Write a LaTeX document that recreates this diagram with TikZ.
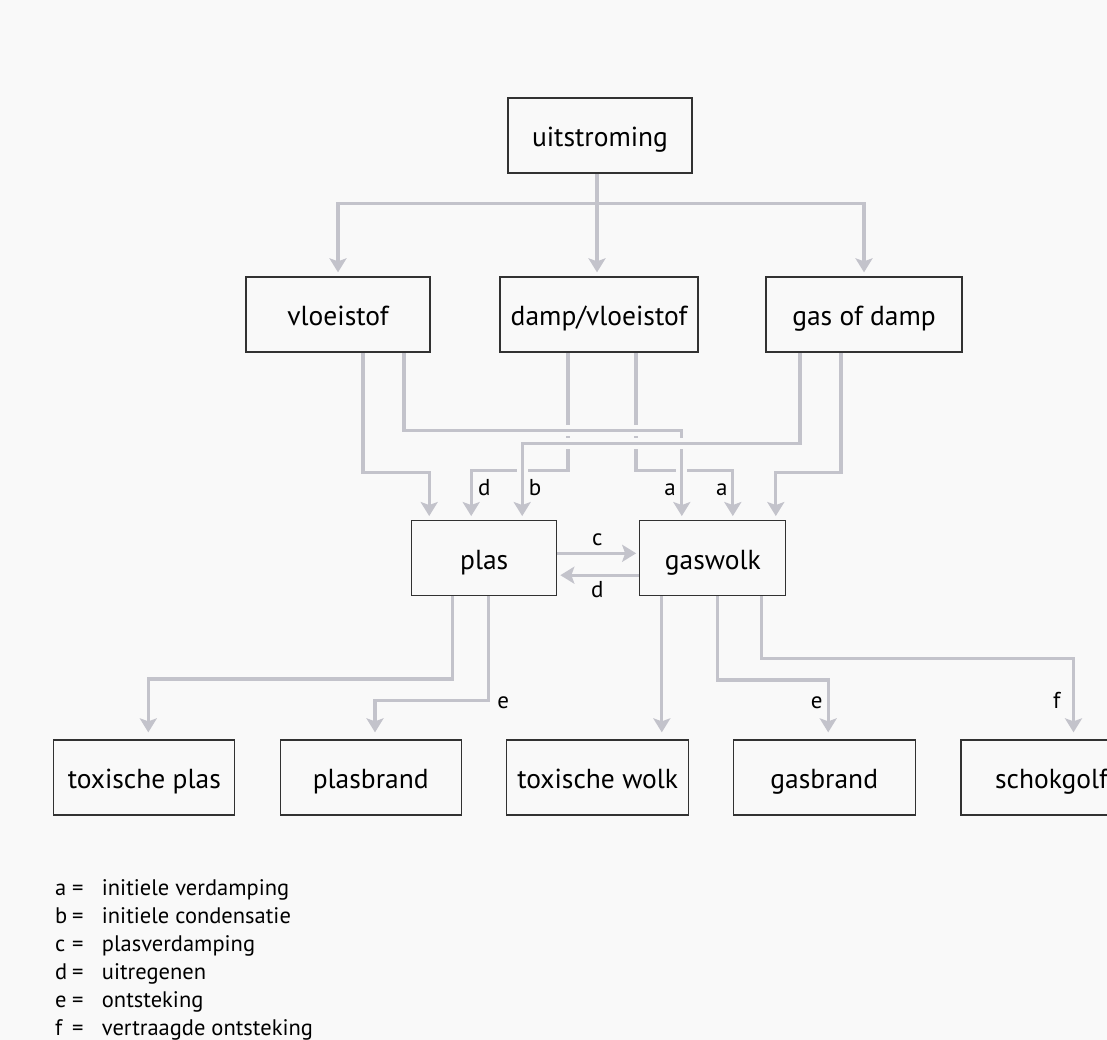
\documentclass[tikz,border=0pt]{standalone}
\usepackage{fontspec}
\setmainfont{PT Sans}[Ligatures=CommonOff]
\usetikzlibrary{arrows.meta}
\definecolor{bgc}{RGB}{249,249,249}
\definecolor{lnc}{RGB}{195,195,203}
\definecolor{bxc}{RGB}{50,50,50}
\pgfdeclarelayer{back}
\pgfdeclarelayer{edges}
\pgfsetlayers{back,edges,main}
\begin{document}
\begin{tikzpicture}[x=1pt,y=-1pt,
  box/.style={draw=bxc, line width=1.3pt, fill=bgc, minimum height=75pt, inner sep=0pt, text height=22pt, text depth=0pt, font=\fontsize{27.5}{32}\selectfont},
  conn/.style={draw=lnc, line width=3.3pt, -{Stealth[length=14pt,width=17pt,inset=3pt]}, shorten >=4pt},
  brd/.style={preaction={draw=bgc, line width=11pt, -, shorten >=0pt}},
  lbl/.style={font=\fontsize{23}{27}\selectfont, anchor=base, inner sep=0pt},
  leg/.style={font=\fontsize{22.5}{27}\selectfont, anchor=base west, inner sep=0pt}]
\begin{pgfonlayer}{back}
\fill[bgc] (0,0) rectangle (1107,1040);
\end{pgfonlayer}
\useasboundingbox (0,0) rectangle (1107,1040);
\clip (0,0) rectangle (1107,1040);

% nodes
\node[box, minimum width=184pt] (uit) at (600,135.5) {uitstroming};
\node[box, minimum width=184pt] (vlo) at (338,314.5) {vloeistof};
\node[box, minimum width=198pt] (dv) at (599,314.5) {damp/vloeistof};
\node[box, minimum width=196pt] (god) at (864,314.5) {gas of damp};
\node[box, minimum width=145pt] (plas) at (484.2,558.2) {plas};
\node[box, minimum width=146pt] (gas) at (712.8,558.2) {gaswolk};
\node[box, minimum width=181pt] (tp) at (144.3,777.5) {toxische plas};
\node[box, minimum width=181pt] (pb) at (370.7,777.5) {plasbrand};
\node[box, minimum width=182pt] (tw) at (597.7,777.5) {toxische wolk};
\node[box, minimum width=182pt] (gb) at (824.2,777.5) {gasbrand};
\node[box, minimum width=181pt] (sg) at (1051.5,777.5) {schokgolf};

\begin{pgfonlayer}{edges}
% top tree
\draw[conn] ([xshift=-3pt]uit.south) -- ([xshift=-2pt]dv.north);
\draw[conn] ([xshift=-3pt]uit.south) -- ++(0,30) -| (vlo.north);
\draw[conn] ([xshift=-3pt]uit.south) -- ++(0,30) -| (god.north);
% middle
\draw[conn] ([xshift=25pt]vlo.south) -- ++(0,119.7) -| ([xshift=-55pt]plas.north);
\draw[conn] ([xshift=-23pt]god.south) -- ++(0,119.7) -| ([xshift=63pt]gas.north);
\draw[conn] ([xshift=-31pt]dv.south) -- ++(0,118) -| ([xshift=-13pt]plas.north);
\draw[conn] ([xshift=37pt]dv.south) -- ++(0,118) -| ([xshift=20pt]gas.north);
\draw[conn,brd] ([xshift=66pt]vlo.south) -- ++(0,78) -| ([xshift=-31pt]gas.north);
\draw[conn,brd] ([xshift=-64pt]god.south) -- ++(0,90.7) -| ([xshift=38pt]plas.north);
% between plas and gaswolk
\draw[conn, shorten >=3pt] ([yshift=4.9pt]plas.east) -- ([yshift=4.9pt]gas.west);
\draw[conn, shorten >=3pt] ([yshift=-17pt]gas.west) -- ([yshift=-17pt]plas.east);
% bottom
\draw[conn, shorten >=7pt] ([xshift=-32pt]plas.south) -- ++(0,82.6) -| ([xshift=4pt]tp.north);
\draw[conn, shorten >=7pt] ([xshift=4pt]plas.south) -- ++(0,104.3) -| ([xshift=4.3pt]pb.north);
\draw[conn, shorten >=7pt] ([xshift=-51pt]gas.south) -- ([xshift=-51pt]gas.south |- tw.north);
\draw[conn, shorten >=7pt] ([xshift=5pt]gas.south) -- ++(0,83.6) -| ([xshift=4pt]gb.north);
\draw[conn, shorten >=7pt] ([xshift=49pt]gas.south) -- ++(0,62) -| ([xshift=22pt]sg.north);
\end{pgfonlayer}

% connector labels
\node[lbl] (ld) at (484.3,495) {d};
\node[lbl] (lb) at (535,495) {b};
\node[lbl] (la1) at (670,495) {a};
\node[lbl] (la2) at (721.7,495) {a};
\node[lbl] (lc) at (597.3,545) {c};
\node[lbl] (ld2) at (597.3,597) {d};
\node[lbl] (le1) at (503.3,708) {e};
\node[lbl] (le2) at (816.7,708) {e};
\node[lbl] (lf) at (1056.7,708) {f};

% legend
\foreach \k/\t [count=\i] in {a/initiele verdamping, b/initiele condensatie, c/plasverdamping, d/uitregenen, e/ontsteking, f/vertraagde ontsteking}{
  \node[leg] (legk\i) at (55,{895+28*(\i-1)}) {\k};
  \node[leg] (lege\i) at (72,{895+28*(\i-1)}) {=};
  \node[leg] (legt\i) at (101.7,{895+28*(\i-1)}) {\t};
}
\end{tikzpicture}
\end{document}
